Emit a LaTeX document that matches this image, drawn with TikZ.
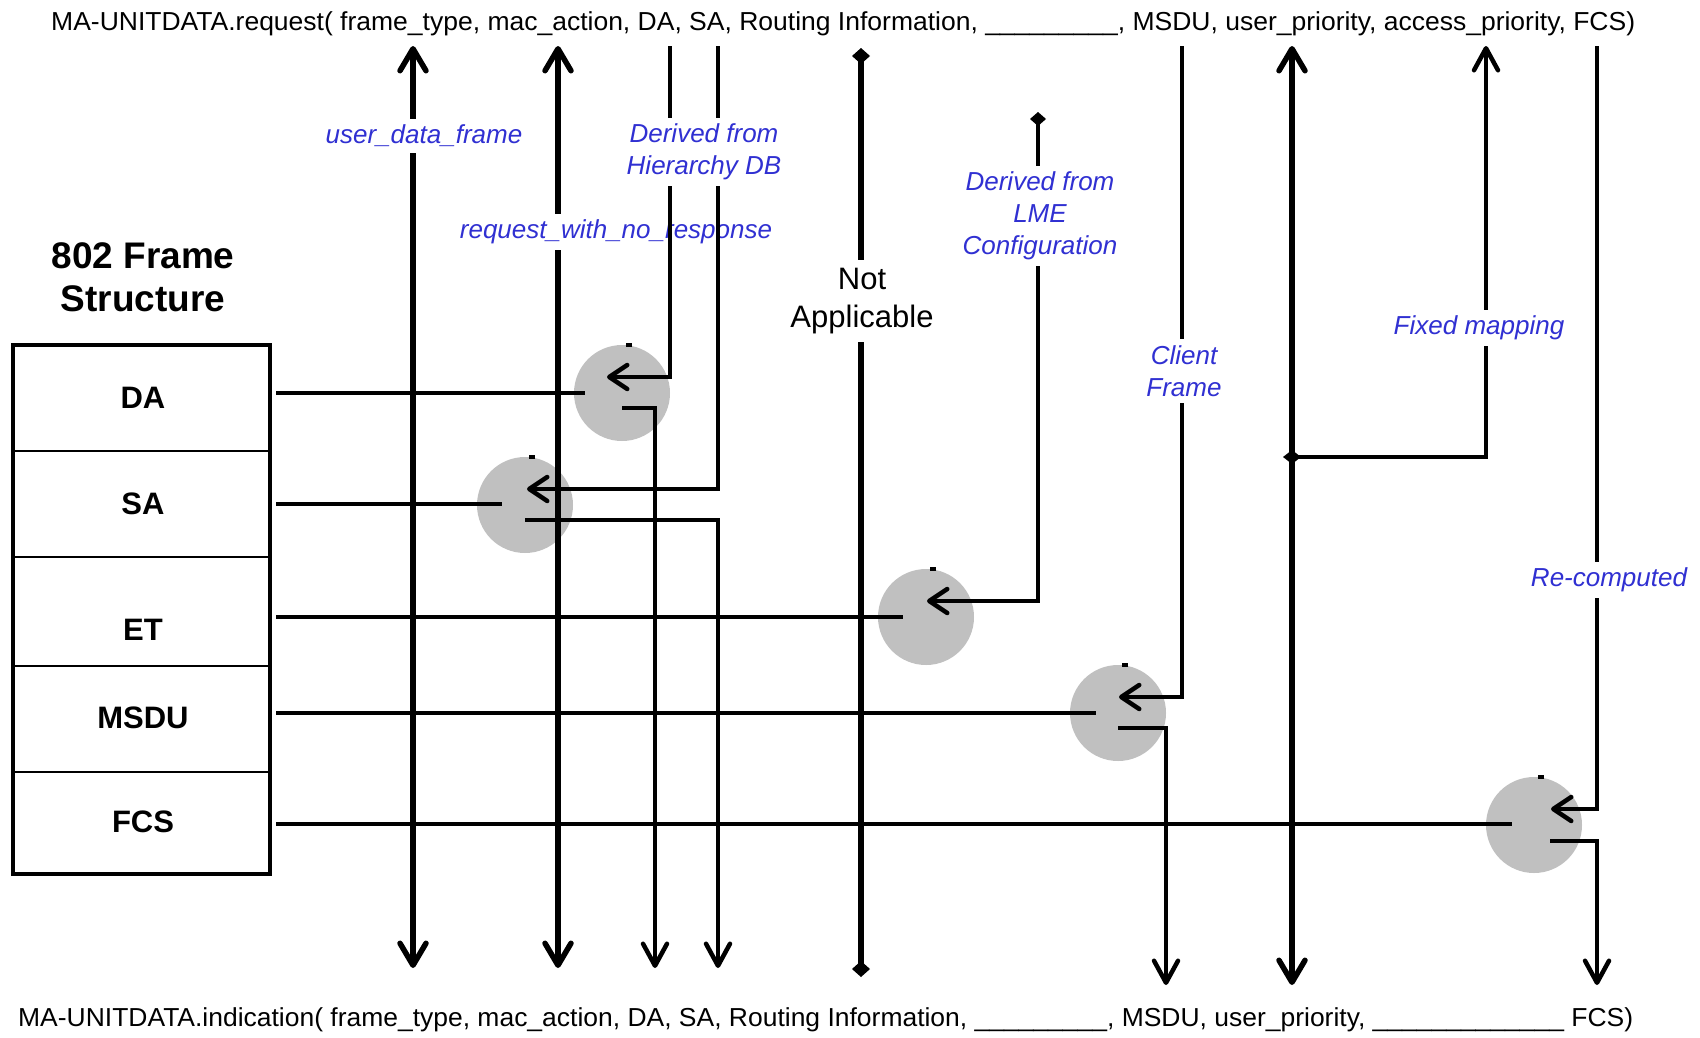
\documentclass[tikz,border=0pt]{standalone}
\usepackage{fontspec}
\setmainfont{Liberation Sans}
\usetikzlibrary{arrows.meta,calc}
\definecolor{labelblue}{RGB}{48,48,210}
\definecolor{hubgray}{RGB}{192,192,192}

\begin{document}
\begin{tikzpicture}[x=1pt,y=-1pt,
  hub/.style={circle,fill=hubgray,draw=none,minimum size=96pt,inner sep=0pt},
  note/.style={font=\fontsize{26}{32}\selectfont\itshape,text=labelblue,fill=white,
               align=center,inner xsep=4pt,inner ysep=6pt},
  fieldname/.style={font=\fontsize{31}{37}\selectfont\bfseries,inner sep=0pt},
  primline/.style={font=\fontsize{26}{31}\selectfont,inner sep=0pt,anchor=base west},
  heavy/.style={line width=5.5pt},
  wire/.style={line width=4.5pt},
  dbl/.style={{Straight Barb[round,length=22pt,width=26pt]}-{Straight Barb[round,length=22pt,width=26pt]}},
  outarrow/.style={-{Straight Barb[round,length=22pt,width=24pt]}},
  inarrow/.style={-{Straight Barb[round,length=18pt,width=24pt]}},
  diamonds/.style={{Diamond[length=16pt,width=18pt]}-{Diamond[length=16pt,width=18pt]}},
  tick/.style={fill=black},
]
\useasboundingbox (0,0) rectangle (1700,1037);

% primitive signatures
\node[primline] (req) at (51,30) {\resizebox{1584pt}{\height}{MA-UNITDATA.request( frame\_type, mac\_action, DA, SA, Routing Information, \_\_\_\_\_\_\_\_\_, MSDU, user\_priority, access\_priority, FCS)}};
\node[primline] (ind) at (18,1026) {\resizebox{1615pt}{\height}{MA-UNITDATA.indication( frame\_type, mac\_action, DA, SA, Routing Information, \_\_\_\_\_\_\_\_\_, MSDU, user\_priority, \_\_\_\_\_\_\_\_\_\_\_\_\_ FCS)}};

% frame structure
\node[font=\fontsize{37}{43}\selectfont\bfseries,align=center,inner sep=0pt] (title) at (143,277) {802 Frame\\Structure};
\node[draw,line width=4pt,minimum width=257pt,minimum height=529pt,inner sep=0pt] (frame) at (141.5,609.5) {};
\foreach \yy in {451,557,666,772}
  \draw[line width=1.5pt] (frame.west |- 0,\yy) -- (frame.east |- 0,\yy);
\node[fieldname] (fDA) at (143,398) {DA};
\node[fieldname] (fSA) at (143,504) {SA};
\node[fieldname] (fET) at (143,630) {ET};
\node[fieldname] (fMSDU) at (143,718) {MSDU};
\node[fieldname] (fFCS) at (143,822) {FCS};

% merge points
\node[hub] (hda) at (622,393) {};
\node[hub] (hsa) at (525,505) {};
\node[hub] (het) at (926,617) {};
\node[hub] (hms) at (1118,713) {};
\node[hub] (hfcs) at (1534,825) {};
\foreach \h in {hda,hsa,het,hms,hfcs}
  \fill[tick] ($(\h)+(4,-50)$) rectangle ++(6,4);

% column end points
\coordinate (ftTop) at (413,46);   \coordinate (ftBot) at (413,968);
\coordinate (maTop) at (558,46);   \coordinate (maBot) at (558,968);
\coordinate (daTop) at (670,46);   \coordinate (daBot) at (655,968);
\coordinate (saTop) at (718,46);   \coordinate (saBot) at (718,968);
\coordinate (naTop) at (861,48);   \coordinate (naBot) at (861,977);
\coordinate (lmeTop) at (1038,112);
\coordinate (msTop) at (1182,46);  \coordinate (msBot) at (1166,985);
\coordinate (upTop) at (1292,46);  \coordinate (upBot) at (1292,985);
\coordinate (apTop) at (1486,46);  \coordinate (apJoin) at (1292,457);
\coordinate (fcsTop) at (1597,46); \coordinate (fcsBot) at (1597,985);

% frame fields into the merge points
\coordinate (srcDA) at (276,393);
\coordinate (srcSA) at (276,504);
\coordinate (srcET) at (276,617);
\coordinate (srcMS) at (276,713);
\coordinate (srcFCS) at (276,824);
\draw[wire] (srcDA) -- ($(hda)+(-37,0)$);
\draw[wire] (srcSA) -- ($(hsa)+(-23,-1)$);
\draw[wire] (srcET) -- ($(het)+(-23,0)$);
\draw[wire] (srcMS) -- ($(hms)+(-22,0)$);
\draw[wire] (srcFCS) -- ($(hfcs)+(-22,-1)$);

% frame_type
\draw[heavy,dbl] (ftBot) -- (ftTop);
\node[note] (udf) at (424,136) {user\_data\_frame};

% mac_action
\draw[heavy,dbl] (maBot) -- (maTop);
\node[note] (rwnr) at (616,232) {request\_with\_no\_response};

% DA and SA
\draw[wire,inarrow] (daTop) |- ($(hda)+(-15,-16)$);
\draw[wire,outarrow] ($(hda)+(0,15)$) -| (daBot);
\draw[wire,inarrow] (saTop) |- ($(hsa)+(2,-16)$);
\draw[wire,outarrow] ($(hsa)+(0,15)$) -| (saBot);
\node[note] (hdb) at (704,152) {Derived from\\Hierarchy DB};

% routing information
\draw[heavy,diamonds] (naBot) -- (naTop);
\node[font=\fontsize{31}{38}\selectfont,fill=white,align=center,inner xsep=4pt,inner ysep=8pt] (na) at (862,301) {Not\\Applicable};

% ET from LME configuration
\draw[wire,{Diamond[length=14pt,width=16pt]}-{Straight Barb[round,length=18pt,width=24pt]}] (lmeTop) |- ($(het)+(1,-16)$);
\node[note] (lme) at (1040,216) {Derived from\\LME\\Configuration};

% MSDU
\draw[wire,inarrow] (msTop) |- ($(hms)+(1,-16)$);
\draw[wire,outarrow] ($(hms)+(0,15)$) -| (msBot);
\node[note] (cf) at (1184,371) {Client\\Frame};

% user_priority and access_priority
\draw[heavy,dbl] (upBot) -- (upTop);
\draw[wire,outarrow] (apJoin) -| (apTop);
\fill ($(apJoin)+(-9,0)$) -- ($(apJoin)+(0,-7)$) -- ($(apJoin)+(9,0)$) -- ($(apJoin)+(0,7)$) -- cycle;
\node[note] (fm) at (1479,328) {Fixed mapping};

% FCS
\draw[wire,inarrow] (fcsTop) |- ($(hfcs)+(17,-16)$);
\draw[wire,outarrow] ($(hfcs)+(16,16)$) -| (fcsBot);
\node[note] (rc) at (1609,580) {Re-computed};
\end{tikzpicture}
\end{document}
